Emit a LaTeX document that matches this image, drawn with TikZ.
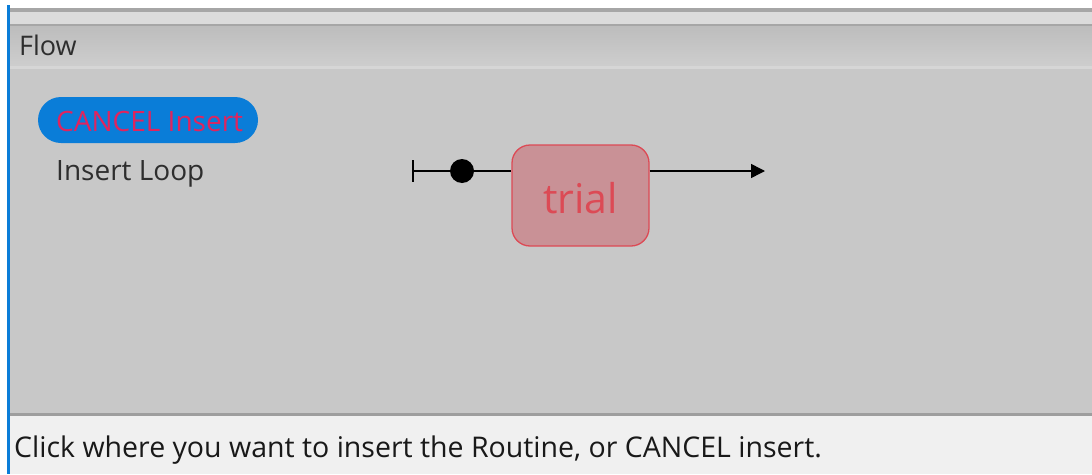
\documentclass[tikz,border=0pt]{standalone}
\usepackage{fontspec}
\setmainfont{Open Sans}
\usetikzlibrary{arrows.meta}
\definecolor{panel}{HTML}{C8C8C8}
\definecolor{status}{HTML}{F0F0F0}
\definecolor{pill}{HTML}{0A7DD8}
\definecolor{cancelred}{HTML}{E0245E}
\definecolor{boxfill}{HTML}{C99196}
\definecolor{boxline}{HTML}{DC4A55}
\definecolor{uitext}{HTML}{2E2E2E}
\tikzset{
  uilabel/.style={inner sep=0pt, anchor=west, text=uitext},
  routine/.style={draw=boxline, line width=1.3pt, fill=boxfill, rounded corners=18pt, minimum width=137pt, minimum height=101pt, text=boxline, font=\fontsize{41}{46}\selectfont, text height=36pt, text depth=0pt},
  flowline/.style={line width=1.5pt, black}
}
\begin{document}
\begin{tikzpicture}[x=1pt,y=-1pt]
\useasboundingbox (0,0) rectangle (1092,474);
% backgrounds
\fill[white] (0,0) rectangle (1092,8);
\fill[gray!70] (8,8) rectangle (1092,12);
\fill[black!14] (8,12) rectangle (1092,25);
\fill[black!35] (8,24) rectangle (1092,26);
\shade[top color=black!26, bottom color=black!19] (8,26) rectangle (1092,68);
\fill[black!16] (8,66) rectangle (1092,69);
\fill[panel] (8,69) rectangle (1092,413);
\fill[black!38] (8,413) rectangle (1092,416);
\fill[status] (8,416) rectangle (1092,474);
\fill[pill] (7,5) rectangle (9.5,474);
% header
\node[uilabel, font=\fontsize{27}{30}\selectfont] (flow) at (19,45) {Flow};
% menu
\node[fill=pill, rounded corners=23pt, minimum width=220pt, minimum height=46pt, inner sep=0pt] (pillbg) at (148,120) {};
\node[uilabel, text=cancelred, font=\fontsize{28}{32}\selectfont] (cancel) at (56,121) {CANCEL Insert};
\node[uilabel, font=\fontsize{28}{32}\selectfont] (loop) at (56,174) {Insert Loop};
% flow
\coordinate (start) at (413,171);
\coordinate (end) at (765,171);
\node[circle, fill=black, minimum size=24pt, inner sep=0pt] (dot) at (462,171) {};
\node[routine] (trial) at (580.5,195.5) {trial};
\draw[flowline] (413,160) -- (413,182);
\draw[flowline] (start) -- (dot);
\draw[flowline] (dot) -- (trial.west |- start);
\draw[flowline, -{Triangle[length=14pt,width=14pt]}] (trial.east |- start) -- (end);
% status bar
\node[uilabel, text=black!90, font=\fontsize{28.5}{32}\selectfont] (statustext) at (14,450) {Click where you want to insert the Routine, or CANCEL insert.};
\end{tikzpicture}
\end{document}
